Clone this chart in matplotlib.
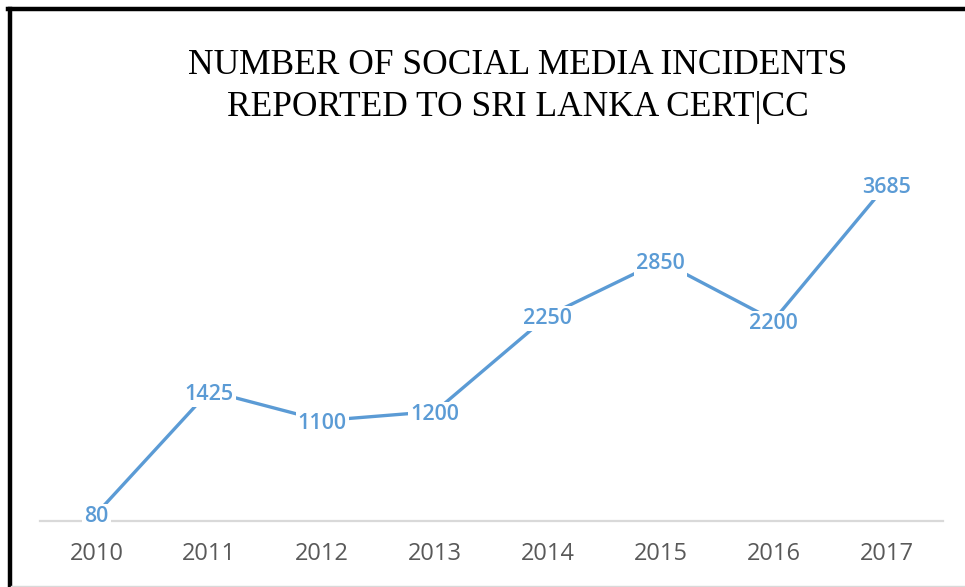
import matplotlib
matplotlib.use("Agg")
import matplotlib.pyplot as plt
from matplotlib.lines import Line2D

years = ["2010", "2011", "2012", "2013", "2014", "2015", "2016", "2017"]
incidents = [80, 1425, 1100, 1200, 2250, 2850, 2200, 3685]
title_lines = ["NUMBER OF SOCIAL MEDIA INCIDENTS", "REPORTED TO SRI LANKA CERT|CC"]

blue = "#5B9BD5"
fig = plt.figure(figsize=(9.65, 5.87), dpi=100)
ax = fig.add_axes([40/965, 66/587, 903/965, 365/587])

x = list(range(len(years)))
ax.plot(x, incidents, color=blue, lw=2.4, solid_capstyle="butt", zorder=2)
for xi, v in zip(x, incidents):
    ax.annotate(str(v), (xi, v), xytext=(0, -2.2), textcoords="offset points",
                ha="center", va="center", color=blue,
                fontsize=15.5, fontweight="semibold", family="Open Sans", zorder=3,
                bbox=dict(boxstyle="square,pad=0.1", fc="white", ec="none"))

ax.set_xlim(-0.5, len(years) - 0.5)
ax.set_ylim(0, 4000)
ax.set_xticks(x)
ax.set_xticklabels(years, color="#595959", fontsize=17, family="Open Sans")
ax.tick_params(axis="x", length=0, pad=15)
ax.set_yticks([])
for s in ["top", "right", "left"]:
    ax.spines[s].set_visible(False)
ax.spines["bottom"].set_color("#D9D9D9")
ax.spines["bottom"].set_linewidth(1.6)

fig.text(518/965, 1 - 65/587, title_lines[0], ha="center", va="center",
         fontsize=25.5, family="Liberation Serif", color="black")
fig.text(518/965, 1 - 108/587, title_lines[1], ha="center", va="center",
         fontsize=25.5, family="Liberation Serif", color="black")

# outer frame
fig.add_artist(Line2D([9.5/965, 9.5/965], [0, 1 - 8.5/587], transform=fig.transFigure,
                      color="black", lw=3.2))
fig.add_artist(Line2D([8/965, 1], [1 - 8.5/587, 1 - 8.5/587], transform=fig.transFigure,
                      color="black", lw=3.2))
fig.add_artist(Line2D([11/965, 1], [1.5/587, 1.5/587], transform=fig.transFigure,
                      color="#D9D9D9", lw=1))

fig.savefig("out.png", dpi=100)
